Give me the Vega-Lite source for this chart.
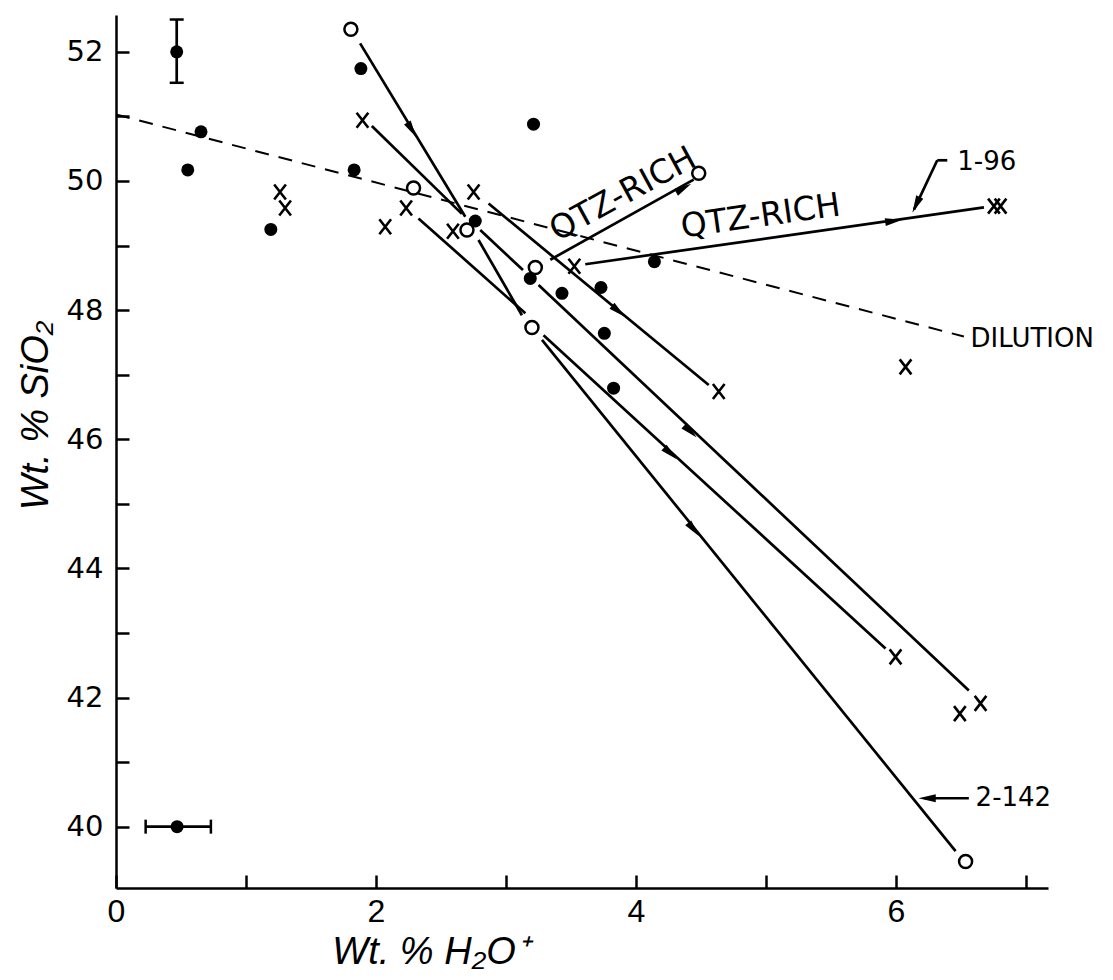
{
  "$schema": "https://vega.github.io/schema/vega-lite/v6.json",
  "width": 932,
  "height": 873,
  "autosize": {"type": "none"},
  "padding": {"left": 116, "top": 15, "right": 65, "bottom": 92},
  "background": "white",
  "config": {"view": {"stroke": null}, "axis": {"grid": false}},
  "datasets": {
    "dashed": [{"x": 0, "y": 51.03, "x2": 6.523, "y2": 47.59}],
    "segments": [
      {"id": "L1", "x": 1.878, "y": 52.13, "x2": 2.687, "y2": 49.446},
      {"id": "L2", "x": 1.968, "y": 50.85, "x2": 2.661, "y2": 49.49},
      {"id": "L3", "x": 2.802, "y": 49.24, "x2": 3.131, "y2": 48.62},
      {"id": "L4", "x": 2.789, "y": 49.085, "x2": 3.123, "y2": 47.92},
      {"id": "L5", "x": 2.327, "y": 49.42, "x2": 3.149, "y2": 47.95},
      {"id": "L6", "x": 2.866, "y": 49.65, "x2": 4.56, "y2": 46.84},
      {"id": "L7", "x": 3.251, "y": 48.39, "x2": 6.561, "y2": 42.11},
      {"id": "L8", "x": 3.289, "y": 47.61, "x2": 5.92, "y2": 42.76},
      {"id": "L9", "x": 3.277, "y": 47.54, "x2": 6.459, "y2": 39.62},
      {"id": "L10", "x": 3.341, "y": 48.78, "x2": 4.444, "y2": 50.02},
      {"id": "L11", "x": 3.61, "y": 48.71, "x2": 6.677, "y2": 49.59},
      {"id": "lead196a", "x": 6.395, "y": 50.32, "x2": 6.318, "y2": 50.32},
      {"id": "lead196b", "x": 6.318, "y": 50.32, "x2": 6.14, "y2": 49.56},
      {"id": "lead2142", "x": 6.561, "y": 40.44, "x2": 6.22, "y2": 40.44},
      {"id": "errV", "x": 0.467, "y": 51.52, "x2": 0.467, "y2": 52.5},
      {"id": "errH", "x": 0.228, "y": 40.0, "x2": 0.73, "y2": 40.0}
    ],
    "arrows": [
      {"x": 2.276, "y": 50.79, "heading": 148.8},
      {"x": 3.867, "y": 47.98, "heading": 129.6},
      {"x": 4.419, "y": 46.12, "heading": 133.3},
      {"x": 4.265, "y": 45.78, "heading": 132.5},
      {"x": 4.444, "y": 44.6, "heading": 141.1},
      {"x": 4.367, "y": 49.89, "heading": 60.6},
      {"x": 5.984, "y": 49.38, "heading": 81.9},
      {"x": 6.155, "y": 49.63, "heading": 205.1},
      {"x": 6.24, "y": 40.44, "heading": 270}
    ],
    "caps": [
      {"x": 0.467, "y": 52.5, "dir": "h"},
      {"x": 0.467, "y": 51.52, "dir": "h"},
      {"x": 0.228, "y": 40.0, "dir": "v"},
      {"x": 0.73, "y": 40.0, "dir": "v"}
    ],
    "dots": [
      {"x": 0.467, "y": 52.0},
      {"x": 0.47, "y": 40.0},
      {"x": 0.654, "y": 50.76},
      {"x": 0.552, "y": 50.17},
      {"x": 1.191, "y": 49.25},
      {"x": 1.884, "y": 51.74},
      {"x": 1.832, "y": 50.17},
      {"x": 3.212, "y": 50.88},
      {"x": 2.764, "y": 49.38},
      {"x": 3.187, "y": 48.49},
      {"x": 4.142, "y": 48.75},
      {"x": 3.431, "y": 48.26},
      {"x": 3.731, "y": 48.35},
      {"x": 3.757, "y": 47.64},
      {"x": 3.828, "y": 46.79}
    ],
    "circles": [
      {"x": 1.807, "y": 52.35},
      {"x": 2.289, "y": 49.89},
      {"x": 2.7, "y": 49.24},
      {"x": 3.226, "y": 48.66},
      {"x": 3.2, "y": 47.73},
      {"x": 4.483, "y": 50.12},
      {"x": 6.536, "y": 39.46}
    ],
    "crosses": [
      {"x": 1.262, "y": 49.83},
      {"x": 1.301, "y": 49.58},
      {"x": 1.896, "y": 50.94},
      {"x": 2.232, "y": 49.58},
      {"x": 2.071, "y": 49.29},
      {"x": 2.751, "y": 49.83},
      {"x": 2.592, "y": 49.22},
      {"x": 3.526, "y": 48.68},
      {"x": 4.637, "y": 46.74},
      {"x": 6.754, "y": 49.61},
      {"x": 6.805, "y": 49.61},
      {"x": 6.074, "y": 47.12},
      {"x": 5.997, "y": 42.63},
      {"x": 6.651, "y": 41.91},
      {"x": 6.492, "y": 41.75}
    ],
    "labels": [
      {"x": 6.574, "y": 47.55, "text": "DILUTION"},
      {"x": 6.472, "y": 50.3, "text": "1-96"},
      {"x": 6.613, "y": 40.44, "text": "2-142"}
    ]
  },
  "encoding": {
    "x": {
      "field": "x",
      "type": "quantitative",
      "scale": {"domain": [0, 7.17], "nice": false, "zero": false},
      "axis": {
        "title": "Wt. % H₂O⁺",
        "values": [0, 1, 2, 3, 4, 5, 6, 7],
        "labelExpr": "datum.value % 2 === 0 ? datum.label : ''",
        "labelFlush": false,
        "labelOverlap": false,
        "labelBound": false,
        "domainColor": "black",
        "domainWidth": 2.5,
        "tickColor": "black",
        "tickWidth": 2.5,
        "tickSize": -13,
        "labelFont": "Liberation Sans Narrow, Liberation Sans, sans-serif",
        "labelFontSize": 32,
        "labelColor": "black",
        "labelPadding": 21,
        "titleFont": "Liberation Sans Narrow, Liberation Sans, sans-serif",
        "titleFontStyle": "italic",
        "titleFontWeight": "normal",
        "titleFontSize": 38,
        "titleColor": "black",
        "titleX": 314,
        "titleY": 64,
        "titleAlign": "center",
        "titleBaseline": "middle"
      }
    },
    "y": {
      "field": "y",
      "type": "quantitative",
      "scale": {"domain": [39.05, 52.57], "nice": false, "zero": false},
      "axis": {
        "title": "Wt. % SiO₂",
        "values": [40, 41, 42, 43, 44, 45, 46, 47, 48, 49, 50, 51, 52],
        "labelExpr": "datum.value % 2 === 0 ? datum.label : ''",
        "labelFlush": false,
        "labelOverlap": false,
        "labelBound": false,
        "domainColor": "black",
        "domainWidth": 2.5,
        "tickColor": "black",
        "tickWidth": 2.5,
        "tickSize": -13,
        "labelFont": "DejaVu Sans",
        "labelFontSize": 29,
        "labelColor": "black",
        "labelPadding": 26,
        "titleFont": "Liberation Sans Narrow, Liberation Sans, sans-serif",
        "titleFontStyle": "italic",
        "titleFontWeight": "normal",
        "titleFontSize": 38,
        "titleColor": "black",
        "titleAngle": 270,
        "titleX": -80,
        "titleY": 400,
        "titleAlign": "center",
        "titleBaseline": "middle"
      }
    }
  },
  "layer": [
    {
      "data": {"name": "dashed"},
      "mark": {"type": "rule", "color": "black", "strokeWidth": 2, "strokeDash": [14, 10]},
      "encoding": {"x2": {"field": "x2"}, "y2": {"field": "y2"}}
    },
    {
      "data": {"name": "segments"},
      "mark": {"type": "rule", "color": "black", "strokeWidth": 2.7},
      "encoding": {"x2": {"field": "x2"}, "y2": {"field": "y2"}}
    },
    {
      "data": {"name": "arrows"},
      "mark": {"type": "point", "shape": "M0,-1L0.45,1L-0.45,1Z", "filled": true, "color": "black", "opacity": 1, "size": 300},
      "encoding": {"angle": {"field": "heading", "type": "quantitative", "scale": null}}
    },
    {
      "data": {"name": "caps"},
      "transform": [{"filter": "datum.dir === 'h'"}],
      "mark": {"type": "point", "shape": "M-1,0L1,0", "filled": false, "color": "black", "opacity": 1, "strokeWidth": 2.5, "size": 196}
    },
    {
      "data": {"name": "caps"},
      "transform": [{"filter": "datum.dir === 'v'"}],
      "mark": {"type": "point", "shape": "M0,-1L0,1", "filled": false, "color": "black", "opacity": 1, "strokeWidth": 2.5, "size": 196}
    },
    {
      "data": {"name": "circles"},
      "mark": {"type": "point", "shape": "circle", "filled": false, "stroke": "black", "fill": "white", "fillOpacity": 1, "opacity": 1, "strokeWidth": 2.5, "size": 169}
    },
    {
      "data": {"name": "dots"},
      "mark": {"type": "point", "shape": "circle", "filled": true, "color": "black", "opacity": 1, "size": 169}
    },
    {
      "data": {"name": "crosses"},
      "mark": {"type": "point", "shape": "M-0.78,-1L0.78,1M0.78,-1L-0.78,1", "filled": false, "color": "black", "opacity": 1, "strokeWidth": 2.6, "size": 225}
    },
    {
      "data": {"name": "labels"},
      "mark": {"type": "text", "font": "DejaVu Sans", "fontSize": 26, "align": "left", "baseline": "middle", "color": "black"},
      "encoding": {"text": {"field": "text"}}
    },
    {
      "data": {"values": [{"x": 3.9, "y": 49.79, "text": "QTZ-RICH"}]},
      "mark": {"type": "text", "font": "DejaVu Sans", "fontSize": 33, "align": "center", "baseline": "middle", "angle": 331.3, "color": "black"},
      "encoding": {"text": {"field": "text"}}
    },
    {
      "data": {"values": [{"x": 4.96, "y": 49.45, "text": "QTZ-RICH"}]},
      "mark": {"type": "text", "font": "DejaVu Sans", "fontSize": 33, "align": "center", "baseline": "middle", "angle": 352, "color": "black"},
      "encoding": {"text": {"field": "text"}}
    }
  ]
}
